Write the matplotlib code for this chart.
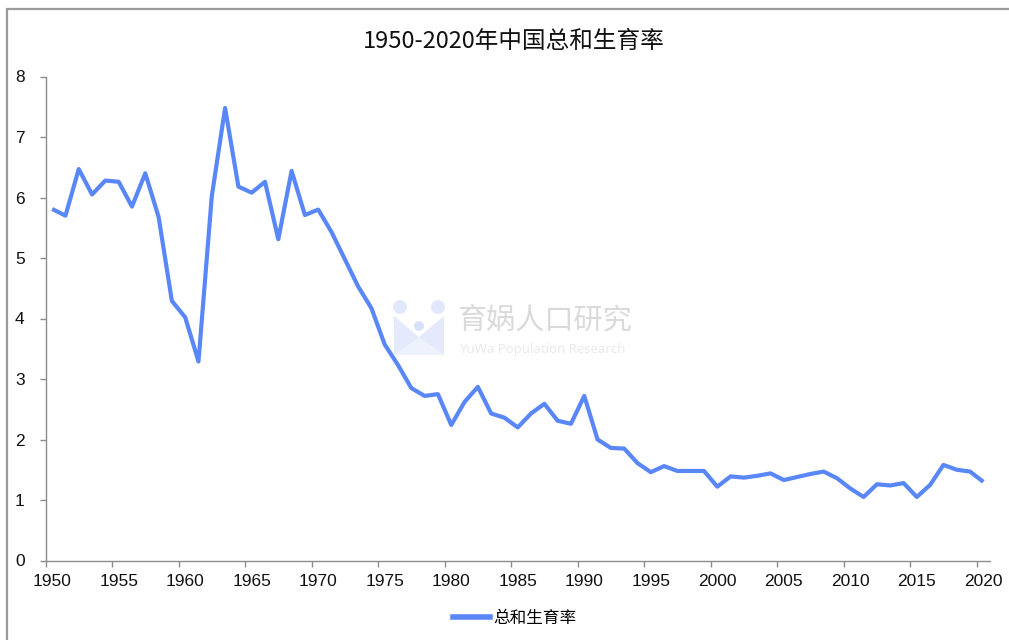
import matplotlib
matplotlib.use("Agg")
import matplotlib.pyplot as plt
from matplotlib.patches import Polygon, Circle
from matplotlib.lines import Line2D

# ---- data ----
years = list(range(1950, 2021))
tfr = [5.81, 5.70, 6.47, 6.05, 6.28, 6.26, 5.85, 6.40, 5.68, 4.29,
       4.02, 3.29, 6.02, 7.48, 6.18, 6.08, 6.26, 5.31, 6.44, 5.71,
       5.80, 5.43, 4.98, 4.53, 4.17, 3.57, 3.23, 2.85, 2.72, 2.75,
       2.24, 2.62, 2.87, 2.43, 2.36, 2.20, 2.43, 2.59, 2.31, 2.26,
       2.72, 2.00, 1.86, 1.85, 1.61, 1.46, 1.56, 1.48, 1.48, 1.48,
       1.22, 1.39, 1.37, 1.40, 1.44, 1.33, 1.38, 1.43, 1.47, 1.36,
       1.19, 1.05, 1.26, 1.24, 1.28, 1.05, 1.25, 1.58, 1.50, 1.47,
       1.30]
label_years = list(range(1950, 2021, 5))
y_ticks = list(range(0, 9))
title = "1950-2020年中国总和生育率"
series_name = "总和生育率"
wm_cn = "育娲人口研究"
wm_en = "YuWa Population Research"

line_color = "#5A87F8"
grey = "#8c8c8c"

plt.rcParams['font.family'] = ['Liberation Sans', 'Noto Sans CJK SC', 'DejaVu Sans']

W, H = 1009, 640
fig = plt.figure(figsize=(W / 100, H / 100), dpi=100)

# background overlay in pixel coordinates (border + watermark)
bg = fig.add_axes([0, 0, 1, 1], zorder=0)
bg.set_xlim(0, W)
bg.set_ylim(H, 0)
bg.axis("off")
bg.plot([7, 7, W], [H, 9, 9], color="#9a9a9a", lw=1.6, solid_joinstyle="miter")
# watermark logo
bg.add_patch(Polygon([(394, 316), (419, 337), (444, 316), (444, 355), (394, 355)],
                     closed=True, facecolor="#e4eafc", edgecolor="none"))
bg.add_patch(Polygon([(394, 355), (419, 337), (444, 355)],
                     closed=True, facecolor="#eef2fd", edgecolor="none"))
bg.add_patch(Circle((400, 307), 7, facecolor="#e2e8fb", edgecolor="none"))
bg.add_patch(Circle((438, 307), 7, facecolor="#e2e8fb", edgecolor="none"))
bg.add_patch(Circle((419, 326), 5, facecolor="#d9e1fa", edgecolor="none"))
bg.text(457, 321, wm_cn, fontsize=21, color="#dadada", va="center", ha="left",
        family=['Noto Sans CJK SC'])
bg.text(459, 349, wm_en, fontsize=9.5, color="#e9e9e9", va="center", ha="left",
        family=['Noto Sans'])

# main axes
left, right = 45.5 / W, 990 / W
bottom, top = (H - 560.5) / H, (H - 76.5) / H
ax = fig.add_axes([left, bottom, right - left, top - bottom], zorder=1)
ax.set_facecolor("none")
ax.plot(years, tfr, color=line_color, lw=3.0, solid_joinstyle="round",
        solid_capstyle="butt", label=series_name)

ax.set_xlim(years[0] - 0.5, years[-1] + 0.5)
ax.set_ylim(0, 8)

# tick marks between categories, labels centered on categories
ax.set_xticks([y - 0.5 for y in label_years])
ax.set_xticklabels([])
ax.set_xticks(label_years, minor=True)
ax.set_xticklabels([str(y) for y in label_years], minor=True)
ax.tick_params(axis="x", which="major", length=4, width=1, color=grey, direction="out")
ax.tick_params(axis="x", which="minor", length=0, pad=10, labelsize=12.5, labelcolor="#111111")
ax.set_yticks(y_ticks)
ax.set_yticklabels([str(v) for v in y_ticks])
ax.tick_params(axis="y", length=4, width=1, color=grey, direction="out", pad=11,
               labelsize=12.5, labelcolor="#111111")

for s in ["top", "right"]:
    ax.spines[s].set_visible(False)
for s in ["left", "bottom"]:
    ax.spines[s].set_color(grey)
    ax.spines[s].set_linewidth(1.0)

fig.text(514 / W, 1 - 41 / H, title, ha="center", va="center", fontsize=17,
         color="#111111", family=['Noto Sans CJK SC'])

handle = Line2D([], [], color=line_color, lw=4)
fig.legend([handle], [series_name], loc="center", bbox_to_anchor=(515 / W, 1 - 618 / H),
           frameon=False, handlelength=2.2, handletextpad=0.2,
           prop={"family": ['Noto Sans CJK SC'], "size": 12})

fig.savefig("out.png", dpi=100)
